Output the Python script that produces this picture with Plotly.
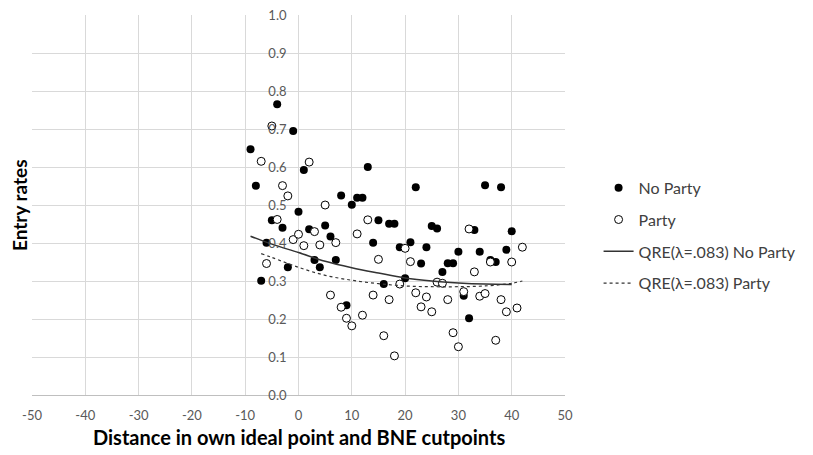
import plotly.graph_objects as go

# ---- data ----
no_party_x = list(range(-9, 41))
no_party_y = [0.647, 0.551, 0.301, 0.401, 0.460, 0.765, 0.440, 0.336, 0.695, 0.482,
              0.592, 0.436, 0.355, 0.336, 0.446, 0.417, 0.355, 0.525, 0.236, 0.501,
              0.519, 0.519, 0.600, 0.401, 0.460, 0.292, 0.451, 0.451, 0.389, 0.307,
              0.402, 0.547, 0.346, 0.389, 0.445, 0.438, 0.324, 0.347, 0.347, 0.377,
              0.261, 0.202, 0.434, 0.377, 0.552, 0.355, 0.350, 0.547, 0.382, 0.431]

party_x = list(range(-7, 43))
party_y = [0.615, 0.346, 0.708, 0.462, 0.551, 0.524, 0.409, 0.423, 0.393, 0.613,
           0.430, 0.395, 0.500, 0.263, 0.401, 0.231, 0.202, 0.182, 0.424, 0.210,
           0.461, 0.263, 0.357, 0.156, 0.251, 0.103, 0.292, 0.386, 0.351, 0.269,
           0.232, 0.258, 0.219, 0.297, 0.294, 0.251, 0.164, 0.127, 0.272, 0.437,
           0.324, 0.260, 0.267, 0.350, 0.144, 0.251, 0.219, 0.350, 0.229, 0.389]

qre_np_x = [-9, -5, 0, 5, 10, 15, 20, 25, 30, 35, 40]
qre_np_y = [0.418, 0.397, 0.375, 0.352, 0.335, 0.321, 0.308, 0.300, 0.295, 0.292, 0.291]

qre_p_x = [-7, -5, 0, 5, 10, 15, 20, 25, 30, 35, 40, 42]
qre_p_y = [0.372, 0.362, 0.336, 0.315, 0.302, 0.293, 0.287, 0.285, 0.285, 0.287, 0.294, 0.300]

x_ticks = [-50, -40, -30, -20, -10, 0, 10, 20, 30, 40, 50]
x_tick_text = ["-50", "-40", "-30", "-20", "-10", "0", "10", "20", "30", "40", "50"]
y_ticks = [0.0, 0.1, 0.2, 0.3, 0.4, 0.5, 0.6, 0.7, 0.8, 0.9, 1.0]

FONT = "Lato"
GRID = "#d9d9d9"
TICKC = "#595959"

fig = go.Figure()
fig.add_trace(go.Scatter(x=no_party_x, y=no_party_y, mode="markers", name="No Party",
                         legendgroup="a",
                         marker=dict(symbol="circle", size=8, color="black")))
fig.add_trace(go.Scatter(x=party_x, y=party_y, mode="markers", name="Party",
                         legendgroup="b",
                         marker=dict(symbol="circle", size=8, color="white",
                                     line=dict(color="black", width=1))))
fig.add_trace(go.Scatter(x=qre_np_x, y=qre_np_y, mode="lines", name="QRE(λ=.083) No Party",
                         legendgroup="c", line_shape="spline",
                         line=dict(color="#333333", width=1.5)))
fig.add_trace(go.Scatter(x=qre_p_x, y=qre_p_y, mode="lines", name="QRE(λ=.083) Party",
                         legendgroup="d", line_shape="spline",
                         line=dict(color="#333333", width=1.2, dash="3px,3px")))

fig.update_layout(
    width=805, height=447,
    margin=dict(l=24, r=248, t=7, b=60),
    paper_bgcolor="white", plot_bgcolor="white",
    font=dict(family=FONT, color=TICKC),
    showlegend=True,
    legend=dict(x=1.063, xanchor="left", y=0.59, yanchor="top",
                font=dict(family=FONT, size=16, color="#404040"),
                tracegroupgap=8, traceorder="grouped",
                borderwidth=0, bgcolor="rgba(0,0,0,0)"),
    xaxis=dict(range=[-50, 50], tickvals=x_ticks, ticktext=x_tick_text,
               showgrid=True, gridcolor=GRID, gridwidth=1,
               zeroline=False, showline=True, linecolor="#bfbfbf", linewidth=1,
               ticks="", tickfont=dict(family=FONT, size=13, color=TICKC),
               ticklabelstandoff=8, ticklabeloverflow="allow",
               fixedrange=True, automargin=False),
    yaxis=dict(range=[0, 1.0001], tickvals=y_ticks, tickformat=".1f",
               anchor="free", position=0.5,
               showgrid=True, gridcolor=GRID, gridwidth=1,
               zeroline=False, showline=False,
               ticks="", tickfont=dict(family=FONT, size=13, color=TICKC),
               ticklabelstandoff=12, ticklabeloverflow="allow",
               fixedrange=True, automargin=False),
    annotations=[
        dict(text="<b>Distance in own ideal point and BNE cutpoints</b>",
             x=0.5, y=-0.11, xref="paper", yref="paper",
             xanchor="center", yanchor="middle", showarrow=False,
             font=dict(family=FONT, size=20, color="black")),
        dict(text="<b>Entry rates</b>", textangle=-90,
             x=-0.0244, y=0.5, xref="paper", yref="paper",
             xanchor="center", yanchor="middle", showarrow=False,
             font=dict(family=FONT, size=19, color="black")),
    ],
)

fig.write_html("out.html")
